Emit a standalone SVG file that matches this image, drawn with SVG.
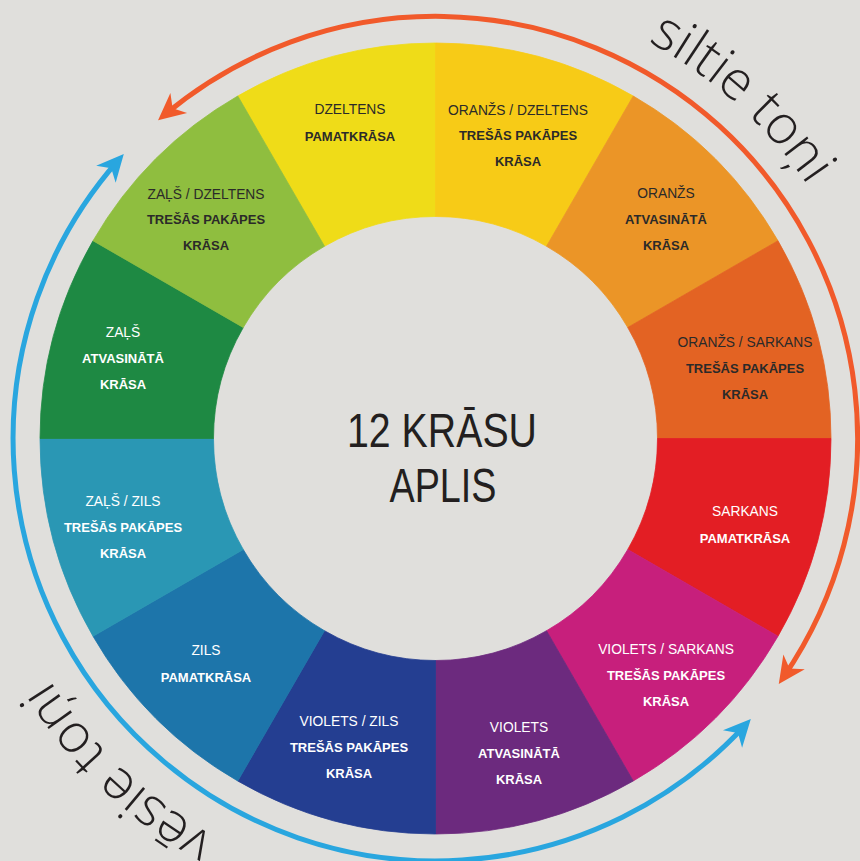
<svg xmlns="http://www.w3.org/2000/svg" width="860" height="861" viewBox="0 0 860 861">
<style>
.bg{fill:#e0dfdc}
.seg{stroke-width:0.8}
.t{font-family:"Liberation Sans",Arial,sans-serif;text-anchor:middle}
.r{font-size:13.8px}
.b{font-size:13px;font-weight:bold}
.dk{fill:#2b2a29}
.wt{fill:#ffffff}
.title{font-family:"Liberation Sans",Arial,sans-serif;font-size:48px;fill:#231f20;text-anchor:middle}
.arc{font-family:"Open Sans","Noto Sans",sans-serif;font-weight:300;font-size:54px;fill:#231f20}
.conn{fill:none;stroke-width:5}
</style>
<defs>
<marker id="ao" markerUnits="userSpaceOnUse" markerWidth="40" markerHeight="32" viewBox="0 0 40 32" refX="32" refY="16" orient="auto-start-reverse" overflow="visible">
<path d="M40,16 L13,3 L21,16 L13,29 Z" fill="#f15a2b"/>
</marker>
<marker id="ab" markerUnits="userSpaceOnUse" markerWidth="40" markerHeight="32" viewBox="0 0 40 32" refX="32" refY="16" orient="auto-start-reverse" overflow="visible">
<path d="M40,16 L13,3 L21,16 L13,29 Z" fill="#29a6df"/>
</marker>
<path id="pTop" d="M296.4,10.5 A450,450 0 0 1 875.7,532.1"/>
<path id="pBot" d="M564.7,874.8 A455,455 0 0 1 -6.9,332.3"/>
</defs>
<rect class="bg" x="0" y="0" width="860" height="861"/>

<g id="dzeltens">
<path class="seg" fill="#efdc18" stroke="#efdc18" d="M237.75,96 A395.5,395.5 0 0 1 435.5,43 L435.5,216.5 A222,222 0 0 0 324.5,246.25 Z"/>
<text class="t r dk" x="350" y="114">DZELTENS</text>
<text class="t b dk" x="350" y="141">PAMATKRĀSA</text>
</g>
<g id="oranzs-dzeltens">
<path class="seg" fill="#f7cb17" stroke="#f7cb17" d="M435.5,43 A395.5,395.5 0 0 1 633.25,96 L546.5,246.25 A222,222 0 0 0 435.5,216.5 Z"/>
<text class="t r dk" x="518" y="115">ORANŽS / DZELTENS</text>
<text class="t b dk" x="518" y="140">TREŠĀS PAKĀPES</text>
<text class="t b dk" x="518" y="166">KRĀSA</text>
</g>
<g id="oranzs">
<path class="seg" fill="#eb9527" stroke="#eb9527" d="M633.25,96 A395.5,395.5 0 0 1 778,240.75 L627.75,327.5 A222,222 0 0 0 546.5,246.25 Z"/>
<text class="t r dk" x="666" y="198">ORANŽS</text>
<text class="t b dk" x="666" y="224">ATVASINĀTĀ</text>
<text class="t b dk" x="666" y="250">KRĀSA</text>
</g>
<g id="oranzs-sarkans">
<path class="seg" fill="#e36323" stroke="#e36323" d="M778,240.75 A395.5,395.5 0 0 1 831,438.5 L657.5,438.5 A222,222 0 0 0 627.75,327.5 Z"/>
<text class="t r dk" x="745" y="347">ORANŽS / SARKANS</text>
<text class="t b dk" x="745" y="373">TREŠĀS PAKĀPES</text>
<text class="t b dk" x="745" y="399">KRĀSA</text>
</g>
<g id="sarkans">
<path class="seg" fill="#e31e24" stroke="#e31e24" d="M831,438.5 A395.5,395.5 0 0 1 778,636.25 L627.75,549.5 A222,222 0 0 0 657.5,438.5 Z"/>
<text class="t r wt" x="745" y="516">SARKANS</text>
<text class="t b wt" x="745" y="543">PAMATKRĀSA</text>
</g>
<g id="violets-sarkans">
<path class="seg" fill="#c71f7c" stroke="#c71f7c" d="M778,636.25 A395.5,395.5 0 0 1 633.25,781 L546.5,630.75 A222,222 0 0 0 627.75,549.5 Z"/>
<text class="t r wt" x="666" y="654">VIOLETS / SARKANS</text>
<text class="t b wt" x="666" y="680">TREŠĀS PAKĀPES</text>
<text class="t b wt" x="666" y="706">KRĀSA</text>
</g>
<g id="violets">
<path class="seg" fill="#6c2a7e" stroke="#6c2a7e" d="M633.25,781 A395.5,395.5 0 0 1 435.5,834 L435.5,660.5 A222,222 0 0 0 546.5,630.75 Z"/>
<text class="t r wt" x="519" y="732">VIOLETS</text>
<text class="t b wt" x="519" y="758">ATVASINĀTĀ</text>
<text class="t b wt" x="519" y="784">KRĀSA</text>
</g>
<g id="violets-zils">
<path class="seg" fill="#243e91" stroke="#243e91" d="M435.5,834 A395.5,395.5 0 0 1 237.75,781 L324.5,630.75 A222,222 0 0 0 435.5,660.5 Z"/>
<text class="t r wt" x="349" y="726">VIOLETS / ZILS</text>
<text class="t b wt" x="349" y="752">TREŠĀS PAKĀPES</text>
<text class="t b wt" x="349" y="778">KRĀSA</text>
</g>
<g id="zils">
<path class="seg" fill="#1d75aa" stroke="#1d75aa" d="M237.75,781 A395.5,395.5 0 0 1 93,636.25 L243.25,549.5 A222,222 0 0 0 324.5,630.75 Z"/>
<text class="t r wt" x="206" y="655">ZILS</text>
<text class="t b wt" x="206" y="682">PAMATKRĀSA</text>
</g>
<g id="zals-zils">
<path class="seg" fill="#2a97b4" stroke="#2a97b4" d="M93,636.25 A395.5,395.5 0 0 1 40,438.5 L213.5,438.5 A222,222 0 0 0 243.25,549.5 Z"/>
<text class="t r wt" x="123" y="506">ZAĻŠ / ZILS</text>
<text class="t b wt" x="123" y="532">TREŠĀS PAKĀPES</text>
<text class="t b wt" x="123" y="558">KRĀSA</text>
</g>
<g id="zals">
<path class="seg" fill="#1e8943" stroke="#1e8943" d="M40,438.5 A395.5,395.5 0 0 1 93,240.75 L243.25,327.5 A222,222 0 0 0 213.5,438.5 Z"/>
<text class="t r wt" x="123" y="337">ZAĻŠ</text>
<text class="t b wt" x="123" y="363">ATVASINĀTĀ</text>
<text class="t b wt" x="123" y="389">KRĀSA</text>
</g>
<g id="zals-dzeltens">
<path class="seg" fill="#8fbe3f" stroke="#8fbe3f" d="M93,240.75 A395.5,395.5 0 0 1 237.75,96 L324.5,246.25 A222,222 0 0 0 243.25,327.5 Z"/>
<text class="t r dk" x="206" y="199">ZAĻŠ / DZELTENS</text>
<text class="t b dk" x="206" y="224">TREŠĀS PAKĀPES</text>
<text class="t b dk" x="206" y="250">KRĀSA</text>
</g>

<g id="center">
<text class="title" x="442" y="447" textLength="190" lengthAdjust="spacingAndGlyphs">12 KRĀSU</text>
<text class="title" x="443" y="502" textLength="107" lengthAdjust="spacingAndGlyphs">APLIS</text>
</g>

<g id="connectors">
<path class="conn" stroke="#f15a2b" marker-start="url(#ao)" marker-end="url(#ao)" d="M164.2,115.2 A422,422 0 0 1 783.3,677.5"/>
<path class="conn" stroke="#29a6df" marker-start="url(#ab)" marker-end="url(#ab)" d="M745.4,725 A421,421 0 0 1 164.2,761.8 A421,421 0 0 1 118.5,160"/>
</g>

<g id="labels">
<text class="arc"><textPath href="#pTop" startOffset="50%" text-anchor="middle">siltie toņi</textPath></text>
<text class="arc"><textPath href="#pBot" startOffset="50%" text-anchor="middle">vēsie toņi</textPath></text>
</g>
</svg>
